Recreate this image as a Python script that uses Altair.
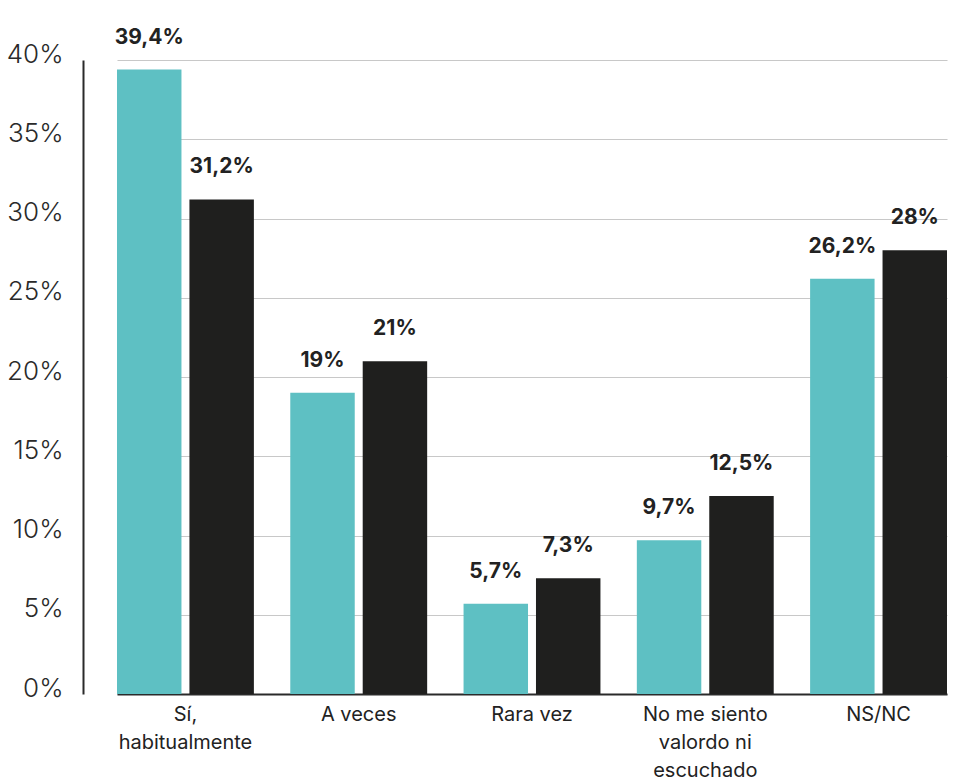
import altair as alt
import pandas as pd

# Response categories (line breaks mark the wrapped axis labels)
categorias = ["Sí,\nhabitualmente", "A veces", "Rara vez",
              "No me siento\nvalordo ni\nescuchado", "NS/NC"]
serie_1 = [39.4, 19.0, 5.7, 9.7, 26.2]
serie_2 = [31.2, 21.0, 7.3, 12.5, 28.0]
series = ["Serie 1", "Serie 2"]
etiquetas_1 = ["39,4%", "19%", "5,7%", "9,7%", "26,2%"]
etiquetas_2 = ["31,2%", "21%", "7,3%", "12,5%", "28%"]
ticks_y = [0, 5, 10, 15, 20, 25, 30, 35, 40]

rows = []
for c, v1, v2, e1, e2 in zip(categorias, serie_1, serie_2, etiquetas_1, etiquetas_2):
    rows.append({"categoria": c, "serie": series[0], "valor": v1, "etiqueta": e1})
    rows.append({"categoria": c, "serie": series[1], "valor": v2, "etiqueta": e2})
df = pd.DataFrame(rows)

FONT = "Inter"
W, H = 864, 634

x = alt.X(
    "categoria:N",
    sort=categorias,
    scale=alt.Scale(range=[34, W], paddingInner=0.21, paddingOuter=0),
    axis=alt.Axis(
        title=None, labelAngle=0, ticks=False, domain=True,
        domainColor="#2a2a2a", domainWidth=2,
        labelFont=FONT, labelFontSize=20, labelColor="#222222",
        labelPadding=10, labelLineHeight=28,
        labelExpr="split(datum.value, '\\n')",
    ),
)
xo = alt.XOffset("serie:N", sort=series,
                 scale=alt.Scale(paddingInner=0.11, paddingOuter=0))
y = alt.Y(
    "valor:Q",
    scale=alt.Scale(domain=[0, 40], nice=False),
    axis=alt.Axis(
        title=None, values=ticks_y, labelExpr="datum.value + '%'",
        ticks=False, domain=True, domainColor="#2a2a2a", domainWidth=2,
        grid=True, gridColor="#c8c8c8", gridWidth=1.2,
        labelFont=FONT, labelFontSize=26, labelFontWeight=300,
        labelColor="#2a2a2a", labelPadding=20, labelOffset=-6,
    ),
)
color = alt.Color("serie:N", sort=series,
                  scale=alt.Scale(domain=series, range=["#5ec0c3", "#1f1f1e"]),
                  legend=None)

bars = alt.Chart(df).mark_bar().encode(x=x, xOffset=xo, y=y, color=color)

labels = alt.Chart(df).mark_text(
    font=FONT, fontSize=21, fontWeight="bold", color="#222222",
    baseline="alphabetic", dy=-26,
).encode(x=x, xOffset=xo, y=y, text="etiqueta:N")

chart = (
    alt.layer(bars, labels)
    .properties(
        width=W, height=H,
        autosize=alt.AutoSizeParams(type="none"),
        padding={"left": 83, "top": 60, "right": 10, "bottom": 89},
    )
    .configure_view(stroke=None)
)

chart.save("out.html", embed_options={"renderer": "svg", "actions": False})
